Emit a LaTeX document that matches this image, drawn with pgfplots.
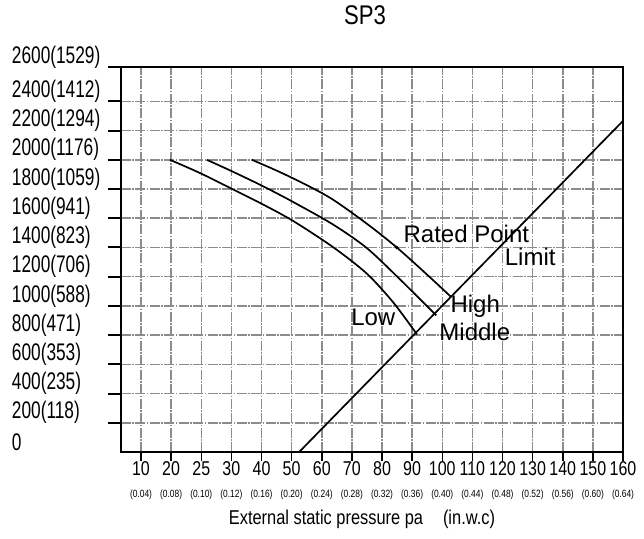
\documentclass[border=0pt]{standalone}
\usepackage{fontspec}
\setmainfont{Liberation Sans}
\newfontfamily\narrowfont[FakeStretch=0.82]{Liberation Sans}
\newfontfamily\xlfont[FakeStretch=0.8]{Liberation Sans}
\newfontfamily\ylfont[FakeStretch=0.72]{Liberation Sans}
\usepackage{pgfplots}
\pgfplotsset{compat=1.18}

\definecolor{gridgray}{RGB}{140,140,140}

% x tick label: pa value over in.w.c value
\newcommand{\xl}[2]{#1\\[1bp]{\fontsize{10.5bp}{12bp}\selectfont(#2)}}

\begin{document}
\begin{tikzpicture}
\begin{axis}[
    width=502bp, height=385bp, scale only axis,
    xmin=0.336, xmax=17, ymin=0, ymax=2635,
    axis line style={line width=1.6bp},
    tick align=outside, tick pos=left,
    xtick={1,...,17},
    xticklabels={\xl{10}{0.04},\xl{20}{0.08},\xl{25}{0.10},\xl{30}{0.12},
        \xl{40}{0.16},\xl{50}{0.20},\xl{60}{0.24},\xl{70}{0.28},\xl{80}{0.32},
        \xl{90}{0.36},\xl{100}{0.40},\xl{110}{0.44},\xl{120}{0.48},\xl{130}{0.52},
        \xl{140}{0.56},\xl{150}{0.60},\xl{160}{0.64}},
    ytick={200,400,...,2400,2635},
    yticklabels={200(118),400(235),600(353),800(471),1000(588),1200(706),
        1400(823),1600(941),1800(1059),2000(1176),2200(1294),2400(1412),2600(1529)},
    extra y ticks={0}, extra y tick labels={0},
    extra y tick style={grid=none, ytick style={/pgfplots/major tick length=0pt}},
    xtick style={black, line width=1.5bp, /pgfplots/major tick length=9bp},
    ytick style={black, line width=2bp, /pgfplots/major tick length=13bp},
    xticklabel style={align=center, inner sep=0pt, yshift=-5bp,
        font=\xlfont\fontsize{20bp}{21bp}\selectfont},
    yticklabel style={anchor=west, inner sep=0pt, xshift=-105bp, yshift=10bp,
        font=\ylfont\fontsize{24bp}{26bp}\selectfont},
    grid=major,
    major grid style={gridgray, line width=1.5bp,
        dash pattern=on 10bp off 1.5bp on 1.5bp off 1.5bp},
    title={SP3},
    title style={at={(0.486,1)}, anchor=center, yshift=46bp,
        font=\narrowfont\fontsize{27bp}{30bp}\selectfont},
    xlabel={External static pressure pa\quad(in.w.c)},
    xlabel style={at={(0.48,0)}, anchor=center, yshift=-67bp,
        font=\narrowfont\fontsize{20bp}{22bp}\selectfont},
]
% Low
\addplot[black, line width=1.7bp, smooth] coordinates {
    (1.96,2000)(2.96,1909)(3.96,1807)(5.06,1693)(6.06,1580)
    (7.39,1400)(8.5,1220)(9.38,1022)(10.16,805)};
% Middle
\addplot[black, line width=1.7bp, smooth] coordinates {
    (3.18,2000)(3.96,1927)(5.06,1818)(6.06,1710)(7.39,1555)
    (8.5,1395)(9.6,1181)(10.8,935)};
% High
\addplot[black, line width=1.7bp, smooth] coordinates {
    (4.68,2000)(5.62,1915)(6.61,1815)(7.39,1725)(8.5,1562)
    (9.49,1400)(10.49,1215)(11.3,1060)};
% Limit
\addplot[black, line width=1.7bp] coordinates {(6.25,0)(17,2266)};
% rated point
\addplot[only marks, mark=*, mark size=1.6bp, black] coordinates {(9.49,1400)};

\node[font=\fontsize{24bp}{26bp}\selectfont] at (axis cs:11.8,1495) {Rated Point};
\node[font=\fontsize{24bp}{26bp}\selectfont] at (axis cs:13.92,1338) {Limit};
\node[font=\fontsize{24bp}{26bp}\selectfont, anchor=west, inner sep=0pt] at (axis cs:11.27,997) {High};
\node[font=\fontsize{24bp}{26bp}\selectfont] at (axis cs:12.08,819) {Middle};
\node[font=\fontsize{24bp}{26bp}\selectfont] at (axis cs:8.71,922) {Low};
\end{axis}
\path ([shift={(-121bp,-87bp)}]current axis.south west)
    rectangle ([shift={(21bp,67bp)}]current axis.north east);
\end{tikzpicture}
\end{document}
